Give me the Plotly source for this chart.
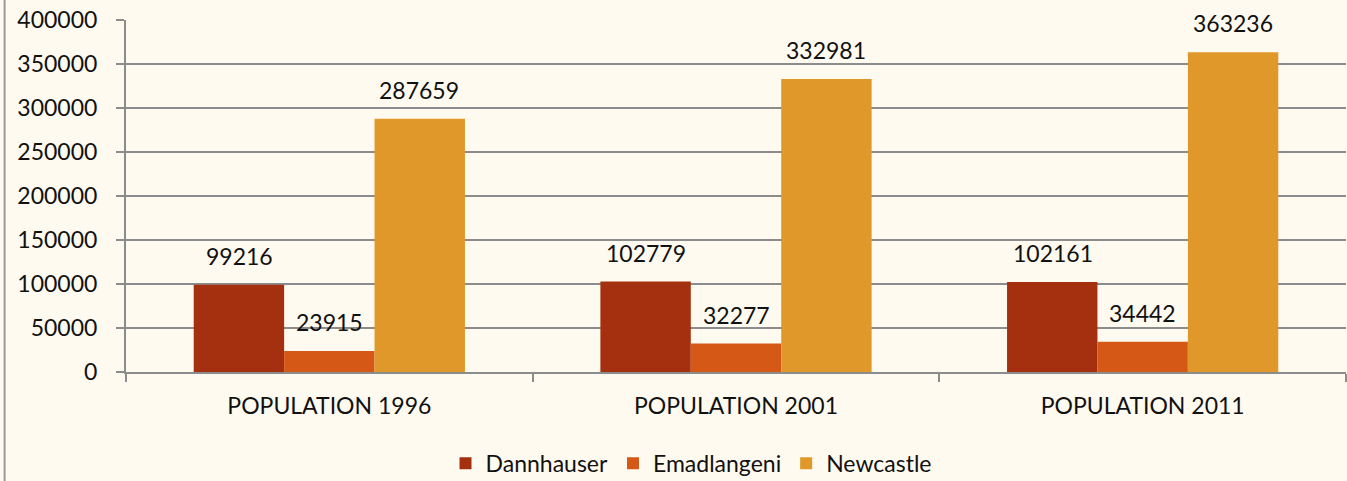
import plotly.graph_objects as go

categories = ["POPULATION 1996", "POPULATION 2001", "POPULATION 2011"]
series_names = ["Dannhauser", "Emadlangeni", "Newcastle"]
dannhauser = [99216, 102779, 102161]
emadlangeni = [23915, 32277, 34442]
newcastle = [287659, 332981, 363236]
colors = ["#A5300F", "#D55816", "#E0982A"]
values = [dannhauser, emadlangeni, newcastle]

FONT = "Lato, 'Open Sans', sans-serif"
fig = go.Figure()
for name, vals, col in zip(series_names, values, colors):
    fig.add_trace(go.Bar(x=categories, y=vals, name=name, marker_color=col,
                         marker_line_width=0))

# data labels above bars
shifts = [-90, 0, 90]
for vals, sx in zip(values, shifts):
    for c, v in zip(categories, vals):
        fig.add_annotation(x=c, y=v, text=str(v), xref="x", yref="y",
                           showarrow=False, xshift=sx, yshift=13,
                           yanchor="bottom", font=dict(size=23, color="#111", family=FONT))

fig.add_shape(type="line", xref="paper", yref="paper", x0=-0.0995, x1=-0.0995,
              y0=-0.4, y1=1.1, line=dict(color="#9a9a9a", width=2))

fig.update_layout(
    width=1347, height=481,
    margin=dict(l=126, r=1, t=20, b=109, autoexpand=False),
    paper_bgcolor="#FFFAF0", plot_bgcolor="#FFFAF0",
    barmode="group", bargap=0.333, bargroupgap=0,
    font=dict(family=FONT, size=23, color="#111"),
    showlegend=True,
    legend=dict(orientation="h", x=0.513, xanchor="center", xref="container",
                y=0.037, yanchor="middle", yref="container",
                font=dict(size=23), itemwidth=30, tracegroupgap=0),
    xaxis=dict(showline=True, linecolor="#8c8c8c", linewidth=2, ticks="outside",
               tickson="boundaries", ticklen=8, tickcolor="#8c8c8c", tickwidth=2,
               showgrid=False, ticklabelstandoff=12, automargin=False,
               tickfont=dict(size=23)),
    yaxis=dict(range=[0, 400000], dtick=50000, showline=True, linecolor="#8c8c8c",
               linewidth=2, ticks="outside", ticklen=8, tickcolor="#8c8c8c", tickwidth=2,
               showgrid=True, gridcolor="#8c8c8c", gridwidth=1.5, zeroline=False,
               ticklabelstandoff=14, tickformat="d", automargin=False),
)
fig.write_html("out.html", config={"displayModeBar": False},
               post_script="document.body.style.margin='0';document.body.style.overflow='hidden';")
